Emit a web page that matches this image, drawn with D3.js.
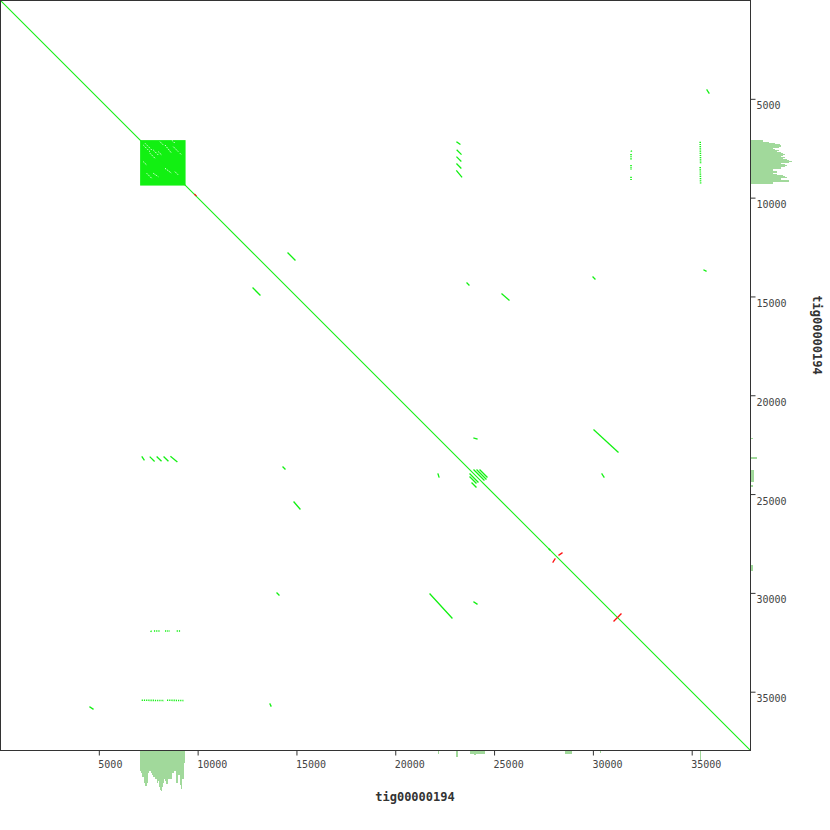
<!DOCTYPE html>
<html><head><meta charset="utf-8">
<script src="https://cdn.jsdelivr.net/npm/d3@7"></script>
<style>body{margin:0;background:#fff}svg{display:block}</style>
</head><body>
<svg id="c" width="830" height="830"></svg>
<script>
// ---------- DATA ----------
const seqName = "tig00000194";
const seqLength = 37950;
const tickValues = [5000, 10000, 15000, 20000, 25000, 30000, 35000];
const mainDiagonal = [[0, 0, 37950, 37950]];
const repeatBlock = [[7090, 7090, 9390, 9390]];
// forward (green) matches: [x1, y1, x2, y2]
const forwardSegments = [
  [23120, 7190, 23270, 7290], [23130, 7600, 23330, 7800], [23120, 7950, 23320, 8150],
  [23120, 8300, 23320, 8500], [23110, 8650, 23360, 8950],
  [7190, 23120, 7290, 23270], [7600, 23130, 7800, 23330], [7950, 23120, 8150, 23320],
  [8300, 23120, 8500, 23320], [8650, 23110, 8950, 23360],
  [35774, 4554, 35875, 4706], [4554, 35774, 4706, 35875],
  [14573, 12802, 14927, 13156], [12802, 14573, 13156, 14927],
  [23630, 14320, 23731, 14421], [14320, 23630, 14421, 23731],
  [25401, 14876, 25755, 15180], [14876, 25401, 15180, 25755],
  [30006, 14016, 30107, 14117], [14016, 30006, 14117, 30107],
  [35622, 13662, 35724, 13713], [13662, 35622, 13713, 35724],
  [23984, 22163, 24136, 22213], [22163, 23984, 22213, 24136],
  [30056, 21758, 31271, 22871], [21758, 30056, 22871, 31271],
  [30461, 23984, 30562, 24136], [23984, 30461, 24136, 30562],
  [23782, 23984, 24187, 24389], [23984, 23782, 24490, 24288], [24136, 23782, 24592, 24237],
  [23782, 24136, 24086, 24440], [23883, 24440, 24086, 24642], [24288, 23782, 24642, 24136],
  [27780, 27780, 27830, 27830]
];
// dotted repeat copies (drawn dashed): [x1, y1, x2, y2]
const dottedSegments = [
  [31930, 7620, 31980, 7700], [31930, 7790, 31930, 8100], [31930, 8350, 31930, 8600], [31930, 8940, 31930, 9140],
  [7620, 31930, 7700, 31980], [7790, 31930, 8100, 31930], [8350, 31930, 8600, 31930], [8940, 31930, 9140, 31930],
  [35430, 7170, 35450, 8300], [35430, 8450, 35450, 9280],
  [7170, 35430, 8300, 35450], [8450, 35430, 9280, 35450]
];
// reverse (red) matches
const reverseSegments = [
  [28285, 28083, 28437, 27982], [27982, 28437, 28083, 28285],
  [31271, 31220, 31423, 31068], [31068, 31423, 31220, 31271],
  [9860, 9840, 9920, 9900]
];
// unmatched gaps inside the tandem repeat block
const blockGaps = [
  [7251, 7337, 7590, 7676], [7590, 7757, 7843, 8010], [8096, 7170, 8263, 7337],
  [8349, 7337, 8688, 7757], [8010, 7676, 8182, 7843], [7423, 8769, 7676, 9022],
  [8349, 8516, 8688, 8769], [8855, 8688, 9022, 8855], [7251, 8182, 7423, 8349],
  [8688, 7084, 8855, 7251], [9108, 7757, 9194, 7843], [7757, 8769, 8010, 8941],
  [7337, 7251, 7676, 7590], [7757, 7590, 8010, 7843], [8769, 7423, 9022, 7676]
];
// coverage histogram (bin start, coverage) along x axis (bottom)
const covBottomPos = [7100,7150,7200,7250,7300,7350,7400,7450,7500,7550,7600,7650,7700,7750,7800,7850,7900,7950,8000,8050,8100,8150,8200,8250,8300,8350,8400,8450,8500,8550,8600,8650,8700,8750,8800,8850,8900,8950,9000,9050,9100,9150,9200,9250,9300];
const covBottomVal = [20,22,26,26,32,35,32,22,20,17,20,22,24,26,26,28,28,32,30,36,39,40,36,32,28,30,33,33,28,28,28,28,22,22,20,20,32,32,24,24,34,38,28,28,12];
const covRightPos = [7100,7150,7200,7250,7300,7350,7400,7450,7500,7550,7600,7650,7700,7750,7800,7850,7900,7950,8000,8050,8100,8150,8200,8250,8300,8350,8400,8450,8500,8550,8600,8650,8700,8750,8800,8850,8900,8950,9000,9050,9100,9150,9200,9250];
const covRightVal = [12,12,18,24,29,30,28,22,22,24,28,26,30,32,34,32,30,34,32,36,38,41,38,30,34,36,34,30,30,22,22,26,26,22,26,32,34,36,30,30,38,38,22,22];
// small coverage patches: [start, end, coverage]
const covBottomExtra = [[22150,22200,3],[23080,23180,6],[23780,24540,3],[24000,24100,4],[28600,28950,3],[30350,30400,2],[35420,35470,10]];
const covRightExtra = [[22150,22200,2],[23130,23230,6],[23780,24400,3],[24550,24620,2],[28600,28900,2]];

// ---------- DRAW ----------
const svg = d3.select("#c");
const P = 750;
const x = d3.scaleLinear().domain([0, seqLength]).range([0, P]);
const y = d3.scaleLinear().domain([0, seqLength]).range([0, P]);
const cov = d3.scaleLinear().domain([0, 40]).range([0, 40]);
const green = "#12f012", red = "#ff1010", histC = "#a1d99b", axisC = "#333";
const binW = 50;

// histograms
const hb = svg.append("g");
hb.selectAll("rect.b").data(covBottomPos).join("rect")
  .attr("x", (d) => x(d)).attr("y", P + 1)
  .attr("width", x(binW) + 0.3).attr("height", (d, i) => cov(covBottomVal[i]))
  .attr("fill", histC).attr("shape-rendering", "crispEdges");
hb.selectAll("rect.be").data(covBottomExtra).join("rect")
  .attr("x", d => x(d[0])).attr("y", P + 1)
  .attr("width", d => Math.max(1, x(d[1]) - x(d[0]))).attr("height", d => cov(d[2]))
  .attr("fill", histC).attr("shape-rendering", "crispEdges");
const hr = svg.append("g");
hr.selectAll("rect").data(covRightPos).join("rect")
  .attr("y", d => y(d)).attr("x", P + 1)
  .attr("height", y(binW) + 0.3).attr("width", (d, i) => cov(covRightVal[i]))
  .attr("fill", histC).attr("shape-rendering", "crispEdges");
svg.append("g").selectAll("rect").data(covRightExtra).join("rect")
  .attr("y", d => y(d[0])).attr("x", P + 1)
  .attr("height", d => Math.max(1, y(d[1]) - y(d[0]))).attr("width", d => cov(d[2]))
  .attr("fill", histC).attr("shape-rendering", "crispEdges");

// repeat block
svg.append("g").selectAll("rect").data(repeatBlock).join("rect")
  .attr("x", d => x(d[0])).attr("y", d => y(d[1]))
  .attr("width", d => x(d[2]) - x(d[0])).attr("height", d => y(d[3]) - y(d[1]))
  .attr("fill", green);

function segs(data, color, w, dash) {
  svg.append("g").selectAll("line").data(data).join("line")
    .attr("x1", d => x(d[0])).attr("y1", d => y(d[1]))
    .attr("x2", d => x(d[2])).attr("y2", d => y(d[3]))
    .attr("stroke", color).attr("stroke-width", w).attr("stroke-linecap", dash ? "butt" : "square")
    .attr("stroke-dasharray", dash || null);
}
segs(blockGaps, "#fff", 0.9, "1.5,1.2");
segs(mainDiagonal, green, 1.1);
segs(forwardSegments, green, 1.3);
segs(dottedSegments, green, 1.6, "1.2,1");
segs(reverseSegments, red, 1.3);

// frame
svg.append("line").attr("x1", 0).attr("x2", P).attr("y1", 0.5).attr("y2", 0.5).attr("stroke", axisC);
svg.append("line").attr("x1", 0.5).attr("x2", 0.5).attr("y1", 0).attr("y2", P).attr("stroke", axisC);

// axes
const font = "'DejaVu Sans Mono', monospace";
const ax = svg.append("g").attr("transform", `translate(0,${P + 0.5})`)
  .call(d3.axisBottom(x).tickValues(tickValues).tickFormat(d3.format("d")).tickSize(5).tickSizeOuter(0));
ax.select(".domain").attr("stroke", axisC).attr("d", `M0,0H${P + 1}`);
ax.selectAll(".tick line").attr("stroke", axisC);
ax.selectAll(".tick text").attr("fill", "#444").attr("font-family", font).attr("font-size", 10)
  .attr("text-anchor", "start").attr("dy", null).attr("y", 17.5).attr("x", -1);

const ay = svg.append("g").attr("transform", `translate(${P + 0.5},0)`)
  .call(d3.axisRight(y).tickValues(tickValues).tickFormat(d3.format("d")).tickSize(5).tickSizeOuter(0));
ay.select(".domain").attr("stroke", axisC).attr("d", `M0,0V${P + 1}`);
ay.selectAll(".tick line").attr("stroke", axisC);
ay.selectAll(".tick text").attr("fill", "#444").attr("font-family", font).attr("font-size", 10)
  .attr("text-anchor", "start").attr("dy", null).attr("x", 6).attr("y", 10);

// titles
svg.append("text").attr("x", 415).attr("y", 801).attr("text-anchor", "middle")
  .attr("font-family", font).attr("font-size", 12).attr("font-weight", "bold").attr("fill", axisC)
  .text(seqName);
svg.append("text").attr("transform", "translate(813,335) rotate(90)").attr("text-anchor", "middle")
  .attr("font-family", font).attr("font-size", 12).attr("font-weight", "bold").attr("fill", axisC)
  .text(seqName);
</script>
</body></html>
